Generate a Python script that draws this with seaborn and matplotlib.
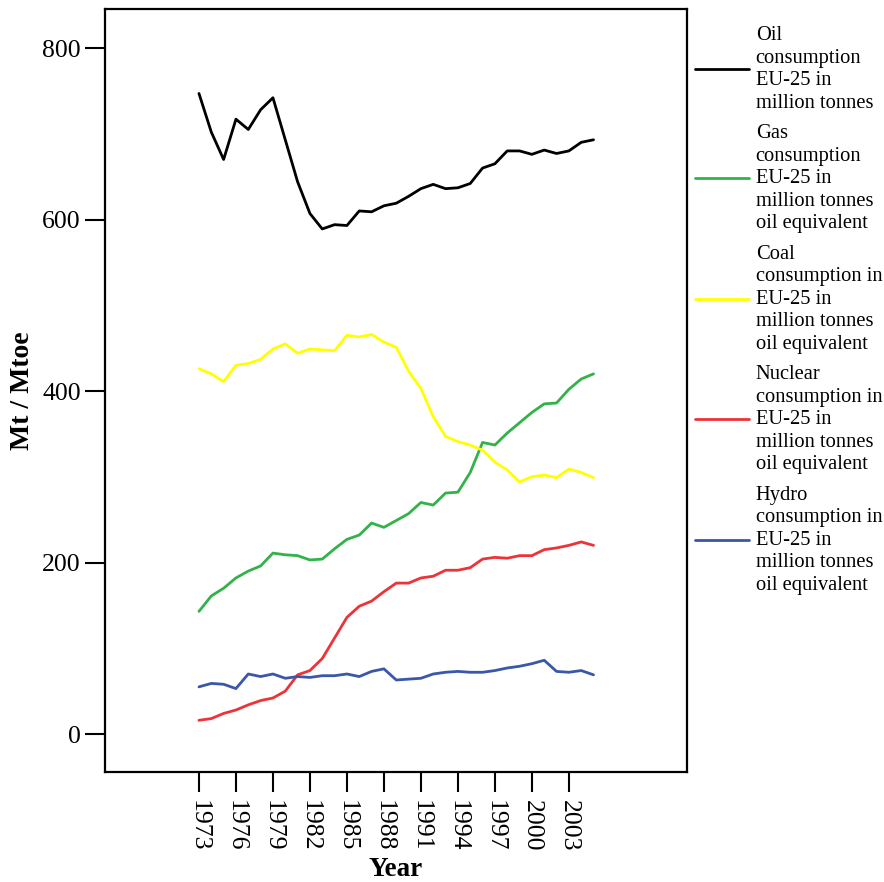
import matplotlib
matplotlib.use("Agg")
import matplotlib.pyplot as plt
import seaborn as sns
import pandas as pd
import numpy as np

years = list(range(1973, 2006))
oil = [747, 702, 670, 717, 705, 728, 742, 693, 644, 607, 589, 594, 593, 610, 609, 616, 619, 627,
       636, 641, 636, 637, 642, 660, 665, 680, 680, 676, 681, 677, 680, 690, 693]
gas = [143, 161, 170, 182, 190, 196, 211, 209, 208, 203, 204, 216, 227, 232, 246, 241, 249, 257,
       270, 267, 281, 282, 305, 340, 337, 351, 363, 375, 385, 386, 402, 414, 420]
coal = [426, 420, 411, 430, 432, 437, 449, 455, 444, 449, 448, 447, 465, 463, 466, 457, 451, 423,
        403, 370, 347, 341, 337, 331, 317, 308, 294, 300, 302, 299, 309, 305, 299]
nuclear = [16, 18, 24, 28, 34, 39, 42, 50, 69, 74, 88, 112, 136, 149, 155, 166, 176, 176,
           182, 184, 191, 191, 194, 204, 206, 205, 208, 208, 215, 217, 220, 224, 220]
hydro = [55, 59, 58, 53, 70, 67, 70, 65, 67, 66, 68, 68, 70, 67, 73, 76, 63, 64,
         65, 70, 72, 73, 72, 72, 74, 77, 79, 82, 86, 73, 72, 74, 69]

labels = [
    "Oil\nconsumption\nEU-25 in\nmillion tonnes",
    "Gas\nconsumption\nEU-25 in\nmillion tonnes\noil equivalent",
    "Coal\nconsumption in\nEU-25 in\nmillion tonnes\noil equivalent",
    "Nuclear\nconsumption in\nEU-25 in\nmillion tonnes\noil equivalent",
    "Hydro\nconsumption in\nEU-25 in\nmillion tonnes\noil equivalent",
]
colors = ["#000000", "#33b24a", "#ffff00", "#ee3338", "#3a57a8"]
xtick_years = list(range(1973, 2004, 3))
ytick_vals = [0, 200, 400, 600, 800]

series = [oil, gas, coal, nuclear, hydro]
df = pd.concat([pd.DataFrame({"Year": years, "value": s, "series": lab})
                for s, lab in zip(series, labels)], ignore_index=True)

sns.set_style("white")
plt.rcParams["font.family"] = ["Liberation Serif", "DejaVu Serif"]
plt.rcParams["text.color"] = "black"
plt.rcParams["axes.labelcolor"] = "black"
plt.rcParams["xtick.color"] = "black"
plt.rcParams["ytick.color"] = "black"

fig = plt.figure(figsize=(8.84, 8.82), dpi=100)
ax = fig.add_axes([105 / 884, 1 - 772 / 882, 582 / 884, 763 / 882])

sns.lineplot(data=df, x="Year", y="value", hue="series", palette=colors,
             hue_order=labels, linewidth=2.0, ax=ax, legend=False)

ax.set_xlim(1965.38, 2012.58)
ax.set_ylim(-44.3, 845.5)
ax.set_xticks(xtick_years)
ax.set_xticklabels([str(y) for y in xtick_years], rotation=270, fontsize=18.5)
ax.set_yticks(ytick_vals)
ax.set_yticklabels([str(v) for v in ytick_vals], fontsize=18.5)
ax.tick_params(axis="both", direction="out", length=14.4, width=1.5, color="black",
               labelcolor="black", pad=3, bottom=True, left=True, top=False, right=False)
ax.tick_params(axis="x", pad=6)
for sp in ax.spines.values():
    sp.set_visible(True)
    sp.set_color("black")
    sp.set_linewidth(1.6)

ax.set_xlabel("Year", fontsize=19.5, fontweight="bold", color="black")
ax.xaxis.label.set_va("baseline")
ax.xaxis.set_label_coords(0.5, -(876 - 772) / 763)
ax.set_ylabel("Mt / Mtoe", fontsize=20, fontweight="bold", labelpad=5, color="black")

handles = ax.get_lines()[:5]
leg = fig.legend(handles, labels, loc="upper left",
                 bbox_to_anchor=(695 / 884, 1 - 26 / 882),
                 bbox_transform=fig.transFigure, frameon=False,
                 fontsize=14.8, handlelength=2.65, handletextpad=0.3,
                 labelspacing=0.56, borderpad=0, borderaxespad=0)
for t in leg.get_texts():
    t.set_color("black")
    t.set_linespacing(1.25)

fig.savefig("out.png", dpi=100)
